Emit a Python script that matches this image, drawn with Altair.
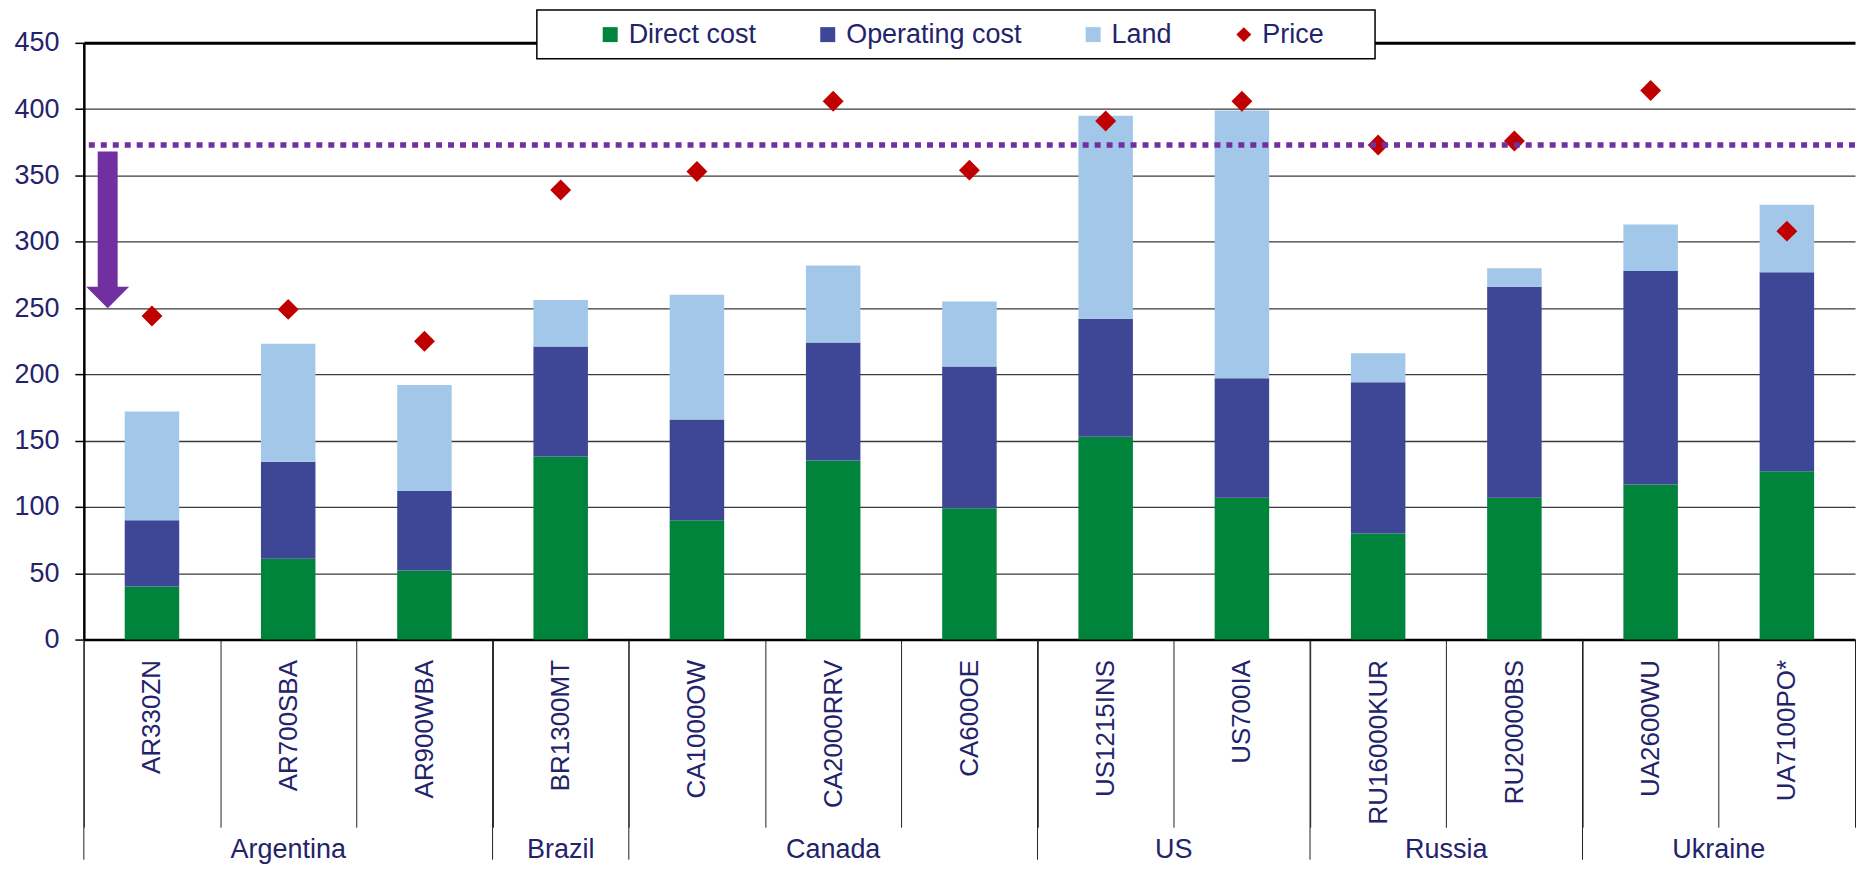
import altair as alt
import pandas as pd

# ---------------- data ----------------
farms = ["AR330ZN", "AR700SBA", "AR900WBA", "BR1300MT", "CA1000OW", "CA2000RRV",
         "CA600OE", "US1215INS", "US700IA", "RU16000KUR", "RU20000BS", "UA2600WU", "UA7100PO*"]
countries = ["Argentina", "Argentina", "Argentina", "Brazil", "Canada", "Canada",
             "Canada", "US", "US", "Russia", "Russia", "Ukraine", "Ukraine"]
direct_cost = [40, 61, 52, 138, 90, 135, 99, 153, 107, 80, 107, 117, 127]
operating_cost = [50, 73, 60, 83, 76, 89, 107, 89, 90, 114, 159, 161, 150]
land = [82, 89, 80, 35, 94, 58, 49, 153, 202, 22, 14, 35, 51]
price = [244, 249, 225, 339, 353, 406, 354, 391, 406, 373, 376, 414, 308]
series_names = ["Direct cost", "Operating cost", "Land", "Price"]
threshold = 373
arrow_from = 368
arrow_to = 250
y_ticks = [0, 50, 100, 150, 200, 250, 300, 350, 400, 450]

# ---------------- style ----------------
FONT = "Liberation Sans, Arial, sans-serif"
NAVY = "#23236B"
PURPLE = "#7030A0"
COLORS = ["#00833A", "#3E4795", "#A2C7E8", "#C00000"]
W, H = 1775, 598
BLANK = "\u2800"

# ---------------- tables ----------------
rows = []
for i, f in enumerate(farms):
    for k, (name, vals) in enumerate(zip(series_names[:3], [direct_cost, operating_cost, land])):
        rows.append({"farm": f, "series": name, "value": vals[i], "order": k})
bars_df = pd.DataFrame(rows)
price_df = pd.DataFrame({"farm": farms, "series": "Price", "value": price})

group_names, group_farms = [], []
for f, c in zip(farms, countries):
    if not group_names or group_names[-1] != c:
        group_names.append(c)
        group_farms.append([])
    group_farms[-1].append(f)
odd_rows, even_rows, start_rows = [], [], []
for c, fl in zip(group_names, group_farms):
    start_rows.append({"farm": fl[0]})
    n = len(fl)
    if n % 2 == 1:
        odd_rows.append({"farm": fl[n // 2], "country": c})
    else:
        even_rows.append({"farm": fl[n // 2 - 1], "country": c})
odd_df = pd.DataFrame(odd_rows)
even_df = pd.DataFrame(even_rows)
start_df = pd.DataFrame(start_rows)
arrow_df = pd.DataFrame({"farm": [farms[0]], "top": [arrow_from], "tip": [arrow_to]})
thr_df = pd.DataFrame({"v": [threshold]})

# ---------------- scales / guides ----------------
x_scale = alt.Scale(paddingInner=0, paddingOuter=0)
y_scale = alt.Scale(domain=[0, 450], nice=False)
color_scale = alt.Scale(domain=series_names, range=COLORS)
shape_scale = alt.Scale(domain=series_names, range=["square", "square", "square", "diamond"])

legend = alt.Legend(
    orient="none", legendX=454, legendY=-33, direction="horizontal",
    title="MMMM", titleOrient="left", titleFont=FONT, titleFontSize=14, titlePadding=2,
    titleOpacity=0,
    padding=11, strokeColor="#000000", fillColor="#ffffff",
    labelFont=FONT, labelFontSize=27, labelColor=NAVY, labelOffset=5, labelLimit=400,
    symbolSize=225, symbolStrokeWidth=0, columnPadding=58,
    labelExpr="datum.label == 'Price' ? 'Price" + BLANK * 2 + "' : datum.label",
)

x_axis = alt.Axis(
    title=None, labelAngle=-90, labelAlign="right", labelBaseline="middle",
    labelFont=FONT, labelFontSize=26, labelColor=NAVY, labelLimit=400,
    labelPadding=-168, tickSize=188, tickBand="extent", tickColor="#222222", tickWidth=1,
    domainColor="#000000", domainWidth=2.5, grid=False,
)
y_axis = alt.Axis(
    title=None, values=y_ticks, labelFont=FONT, labelFontSize=27, labelColor=NAVY,
    labelPadding=16, tickSize=9, tickColor="#000000", tickWidth=1.5,
    domainColor="#000000", domainWidth=2.5, grid=True,
    gridColor={"condition": {"test": "datum.value === 450", "value": "#000000"}, "value": "#3a3a3a"},
    gridWidth={"condition": {"test": "datum.value === 450", "value": 3}, "value": 1.3},
)

# ---------------- layers ----------------
bars = alt.Chart(bars_df).mark_bar(width=alt.RelativeBandSize(0.4)).encode(
    x=alt.X("farm:N", sort=farms, scale=x_scale, axis=x_axis),
    y=alt.Y("value:Q", stack="zero", scale=y_scale, axis=y_axis),
    color=alt.Color("series:N", scale=color_scale, legend=legend),
    order=alt.Order("order:Q", sort="ascending"),
)

points = alt.Chart(price_df).mark_point(filled=True, size=440, opacity=1).encode(
    x=alt.X("farm:N", sort=farms),
    y=alt.Y("value:Q", stack=None),
    color=alt.Color("series:N", scale=color_scale, legend=legend),
    shape=alt.Shape("series:N", scale=shape_scale, legend=legend),
)

thr = alt.Chart(thr_df).mark_rule(color=PURPLE, strokeWidth=5.5, strokeDash=[6, 6]).encode(
    y=alt.Y("v:Q")
)

shaft = alt.Chart(arrow_df).transform_calculate(
    shaft_end="datum.tip + 15"
).mark_rule(color=PURPLE, strokeWidth=20).encode(
    x=alt.X("farm:N", sort=farms, bandPosition=0.175),
    y=alt.Y("top:Q"),
    y2=alt.Y2("shaft_end:Q"),
)

head = alt.Chart(arrow_df).transform_calculate(
    head_mid="datum.tip + 8"
).mark_point(shape="M-1,-0.5L1,-0.5L0,0.5Z", size=1849, filled=True, opacity=1, color=PURPLE).encode(
    x=alt.X("farm:N", sort=farms, bandPosition=0.175),
    y=alt.Y("head_mid:Q"),
)

group_rules = alt.Chart(start_df).mark_rule(color="#222222", strokeWidth=1).encode(
    x=alt.X("farm:N", sort=farms, bandPosition=0),
    y=alt.datum(0),
    y2=alt.datum(-166),
)

text_kw = dict(font=FONT, fontSize=27, color=NAVY, baseline="alphabetic", align="center")
text_odd = alt.Chart(odd_df).mark_text(**text_kw).encode(
    x=alt.X("farm:N", sort=farms, bandPosition=0.5),
    y=alt.datum(-165),
    text="country:N",
)
text_even = alt.Chart(even_df).mark_text(**text_kw).encode(
    x=alt.X("farm:N", sort=farms, bandPosition=1),
    y=alt.datum(-165),
    text="country:N",
)

chart = alt.layer(
    bars, points, thr, shaft, head, group_rules, text_odd, text_even
).properties(
    width=W, height=H,
    padding={"left": 5, "top": 0, "right": 0, "bottom": 0},
).configure_view(stroke=None).configure_legend(strokeWidth=1.5)

chart.save("out.html", embed_options={"renderer": "svg", "actions": False})
